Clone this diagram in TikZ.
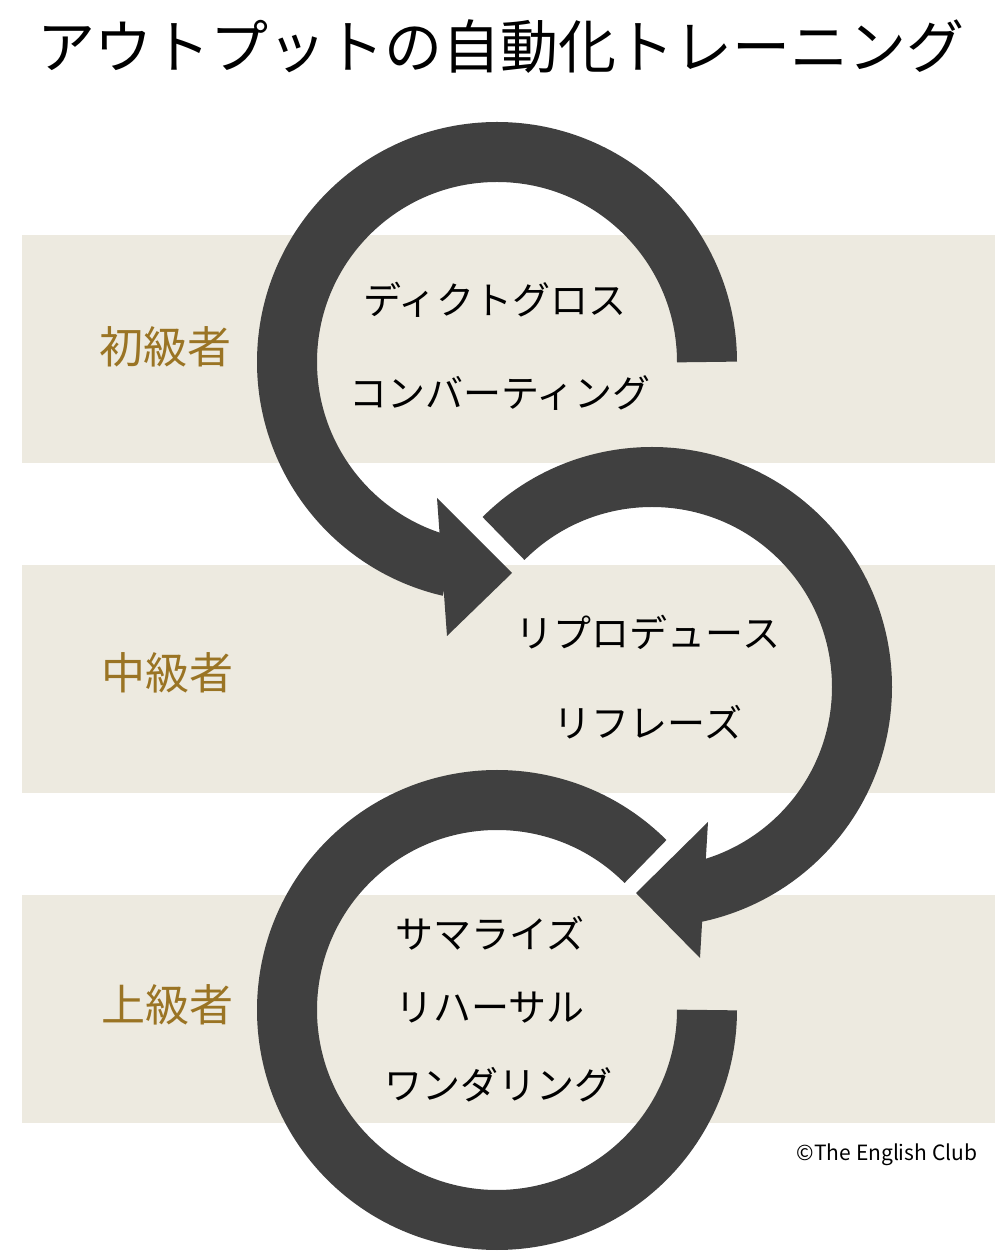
\documentclass[tikz,border=0pt]{standalone}
\usepackage{fontspec}
\setmainfont{Noto Sans CJK JP}
\usetikzlibrary{calc}
\definecolor{band}{HTML}{EDEAE0}
\definecolor{ring}{HTML}{404040}
\definecolor{level}{HTML}{9A7424}
\begin{document}
\begin{tikzpicture}[x=1pt,y=1pt,
                    bandbox/.style={fill=band, draw=none},
                    ringline/.style={draw=ring, line width=60pt, line cap=butt},
                    tip/.style={fill=ring, draw=none},
                    lvl/.style={text=level, font=\fontsize{44}{48}\selectfont},
                    item/.style={font=\fontsize{38}{42}\selectfont}]
  \useasboundingbox (0,0) rectangle (1002,1254);
  % bands
  \fill[bandbox] (22,791) rectangle (995,1019);
  \fill[bandbox] (22,461) rectangle (995,689);
  \fill[bandbox] (22,131) rectangle (995,359);
  % title
  \node(title)[font=\fontsize{58}{62}\selectfont] at (501,1207){アウトプットの自動化トレーニング};
  % ring centres
  \coordinate (c1) at (497,892);
  \coordinate (c2) at (652,567);
  \coordinate (c3) at (497,244);
  % rings
  \draw[ringline] ($(c1)+(0:210)$) arc[start angle=0, end angle=257, radius=210];
  \fill[tip] (437,756) -- (512,681) -- (447,618) -- cycle;
  \draw[ringline] ($(c2)+(135:210)$) arc[start angle=135, end angle=-78, radius=210];
  \fill[tip] (708,432) -- (636,361) -- (700,296) -- cycle;
  \draw[ringline] ($(c3)+(45:210)$) arc[start angle=45, end angle=360, radius=210];
  % levels
  \node(beg)[lvl] at (165,907){初級者};
  \node(mid)[lvl] at (167,581){中級者};
  \node(adv)[lvl] at (167,249){上級者};
  % items
  \node(dicto)[item] at (495,954){ディクトグロス};
  \node(conv)[item] at (500,861){コンバーティング};
  \node(repro)[item] at (648,622){リプロデュース};
  \node(rephr)[item] at (648,532){リフレーズ};
  \node(summ)[item] at (490,321){サマライズ};
  \node(rehe)[item] at (490,246){リハーサル};
  \node(wand)[item] at (498,169){ワンダリング};
  \node(copy)[font=\fontsize{21}{24}\selectfont] at (887,99){©The English Club};
\end{tikzpicture}
\end{document}
